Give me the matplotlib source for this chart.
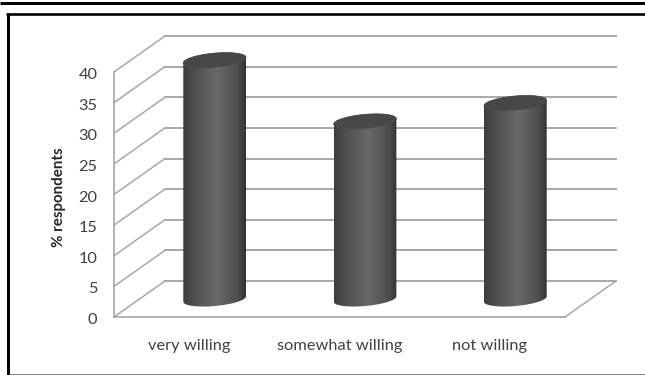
import numpy as np
import matplotlib
matplotlib.use("Agg")
import matplotlib.pyplot as plt
from matplotlib.colors import LinearSegmentedColormap
from matplotlib.lines import Line2D
from matplotlib.patches import PathPatch, Polygon
from matplotlib.path import Path
from matplotlib.transforms import ScaledTranslation

plt.rcParams["font.family"] = ["Lato", "DejaVu Sans"]

categories = ["very willing", "somewhat willing", "not willing"]
values = [39, 29, 32]
y_ticks = [0, 5, 10, 15, 20, 25, 30, 35, 40]
y_label = "% respondents"

GRID = "#a8a8a8"
TEXT = "#404040"

fig = plt.figure(figsize=(6.45, 3.75), dpi=100)
ax = fig.add_axes([114 / 645, 58 / 375, 451 / 645, 245 / 375])
ax.set_xlim(0, 3)
ax.set_ylim(0, 40)

# one pixel expressed in data units, the depth offsets are easier to think about in pixels
px_x = 3 / 451
px_y = 40 / 245
depth_x = 51 * px_x
depth_y = 36 * px_y

for tick in y_ticks:
    ax.plot([0, depth_x], [tick, tick + depth_y], color=GRID, lw=1.1, clip_on=False, zorder=1)
    ax.plot([depth_x, 3 + depth_x], [tick + depth_y, tick + depth_y],
            color=GRID, lw=1.4, clip_on=False, zorder=1)
ax.plot([3, 3 + depth_x], [0, depth_y], color=GRID, lw=1.1, clip_on=False, zorder=1)

for side in ["top", "right"]:
    ax.spines[side].set_visible(False)
for side in ["left", "bottom"]:
    ax.spines[side].set_color(GRID)
    ax.spines[side].set_linewidth(1.2)
ax.patch.set_visible(False)

ax.set_yticks(y_ticks)
ax.set_xticks([0.5, 1.5, 2.5])
ax.set_xticklabels(categories)
ax.tick_params(axis="y", length=0, pad=12, labelsize=11.8, labelcolor=TEXT)
ax.tick_params(axis="x", length=0, pad=15.5, labelsize=11.8, labelcolor=TEXT)
ax.set_ylabel(y_label, fontsize=10.9, fontweight="bold", color="#262626")
ax.yaxis.set_label_coords(-48 / 451, 0.49)

# nudge the value labels down so they sit level with the front ends of the grid lines
nudge = ScaledTranslation(0, -1.5 / 100, fig.dpi_scale_trans)
for label in ax.get_yticklabels():
    label.set_transform(label.get_transform() + nudge)

shade = LinearSegmentedColormap.from_list(
    "cylinder",
    [(0, "#3c3c3c"), (0.12, "#4a4a4a"), (0.55, "#696969"), (0.88, "#4c4c4c"), (1, "#333333")],
)


def ellipse_points(cx, cy, theta):
    # tilted cap outline, 31.5 x 7 px turned by about 5 degrees
    a, b, tilt = 31.5, 7.0, np.radians(5.2)
    ex = a * np.cos(theta)
    ey = b * np.sin(theta)
    px = ex * np.cos(tilt) - ey * np.sin(tilt)
    py = ex * np.sin(tilt) + ey * np.cos(tilt)
    return cx + px * px_x, cy + py * px_y


def draw_cylinder(pos, value):
    cx = pos + depth_x / 2
    base = depth_y / 2
    top = base + value

    # body: front half of the bottom edge, then up and across the top cap
    bx, by = ellipse_points(cx, base, np.linspace(np.pi, 2 * np.pi, 60))
    tx, ty = ellipse_points(cx, top, np.linspace(0, np.pi, 60))
    outline = np.column_stack([np.r_[bx, tx], np.r_[by, ty]])
    body = PathPatch(Path(np.vstack([outline, outline[0]]), closed=True),
                     transform=ax.transData, facecolor="none", edgecolor="none", clip_on=False)
    ax.add_patch(body)

    half = 31.5 * px_x
    gradient = np.linspace(0, 1, 128).reshape(1, -1)
    image = ax.imshow(gradient, cmap=shade, aspect="auto", zorder=3,
                      extent=[cx - half, cx + half, 0, top + 3])
    # the top of the tallest cylinder rises above the front plane of the axes
    image.set_clip_box(fig.bbox)
    image.set_clip_path(body)

    cx_top, cy_top = ellipse_points(cx, top, np.linspace(0, 2 * np.pi, 120))
    ax.add_patch(Polygon(np.column_stack([cx_top, cy_top]), closed=True,
                         facecolor="#474747", edgecolor="#4c4c4c", lw=0.5,
                         zorder=4, clip_on=False))


for i, value in enumerate(values):
    draw_cylinder(i + 0.5, value)

ax.set_xlim(0, 3)
ax.set_ylim(0, 40)


def frame_line(x0, y0, x1, y1, width, color="black"):
    fig.add_artist(Line2D([x0 / 645, x1 / 645], [1 - y0 / 375, 1 - y1 / 375],
                          color=color, lw=width * 0.72, solid_capstyle="butt"))


# page rules around the figure
frame_line(0, 2.5, 645, 2.5, 3)
frame_line(6, 14, 645, 14, 2.6)
frame_line(7.5, 13, 7.5, 375, 3)
frame_line(9, 374, 645, 374, 1, "#808080")

fig.savefig("out.png", dpi=100)
